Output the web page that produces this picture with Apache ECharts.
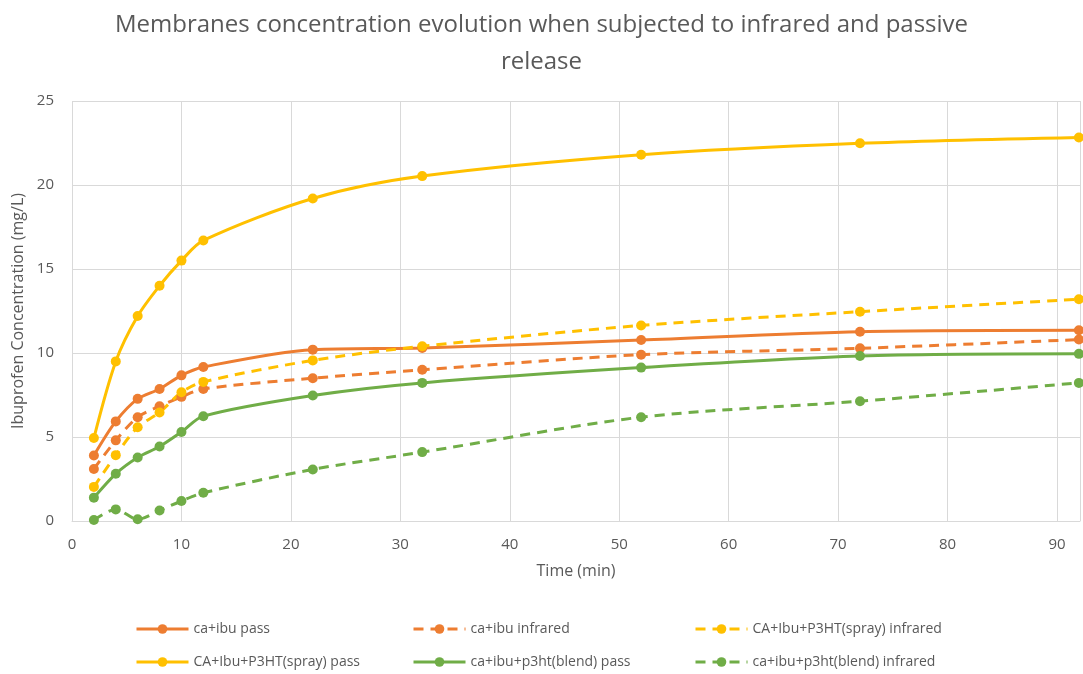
<!DOCTYPE html>
<html>
<head>
<meta charset="utf-8">
<script src="https://cdn.jsdelivr.net/npm/echarts@6/dist/echarts.min.js"></script>
<style>
html,body{margin:0;padding:0;background:#fff;}
#chart{width:1083px;height:674px;}
</style>
</head>
<body>
<div id="chart"></div>
<script>
// time points (min)
var times = [2, 4, 6, 8, 10, 12, 22, 32, 52, 72, 92];

// concentrations (mg/L)
var caIbuPass        = [3.9, 5.93, 7.27, 7.86, 8.67, 9.17, 10.2, 10.3, 10.77, 11.27, 11.35];
var caIbuIr          = [3.1, 4.8, 6.18, 6.83, 7.39, 7.86, 8.5, 9.0, 9.9, 10.28, 10.8];
var sprayIr          = [2.03, 3.92, 5.58, 6.46, 7.66, 8.28, 9.56, 10.4, 11.64, 12.46, 13.2];
var sprayPass        = [4.94, 9.5, 12.2, 14.0, 15.5, 16.7, 19.2, 20.53, 21.8, 22.48, 22.83];
var blendPass        = [1.39, 2.81, 3.78, 4.43, 5.3, 6.24, 7.47, 8.22, 9.13, 9.82, 9.95];
var blendIr          = [0.06, 0.69, 0.1, 0.63, 1.19, 1.68, 3.07, 4.1, 6.18, 7.13, 8.22];

var yTicks = [0, 5, 10, 15, 20, 25];

var ORANGE = '#ED7D31', YELLOW = '#FFC000', GREEN = '#70AD47';
var FONT = "'Open Sans', sans-serif";

function pairs(vals) {
  return times.map(function (t, i) { return [t, vals[i]]; });
}

function makeSeries(name, vals, color, dashed) {
  return {
    name: name,
    type: 'line',
    smooth: 0.3,
    symbol: 'circle',
    symbolSize: 10,
    itemStyle: { color: color },
    lineStyle: { color: color, width: 3, type: dashed ? [10, 7] : 'solid' },
    data: pairs(vals)
  };
}

// one legend per entry so the 3x2 layout sits where it should
function legendAt(name, left, top) {
  return {
    left: left,
    top: top,
    padding: 0,
    itemWidth: 52,
    itemHeight: 12,
    lineStyle: { width: 3 },
    data: [name],
    textStyle: { color: '#595959', fontSize: 14, fontFamily: FONT }
  };
}

var chart = echarts.init(document.getElementById('chart'));

chart.setOption({
  animation: false,
  title: {
    text: 'Membranes concentration evolution when subjected to infrared and passive\nrelease',
    left: 'center',
    top: 2,
    textStyle: { color: '#595959', fontSize: 24, fontWeight: 'normal', fontFamily: FONT, lineHeight: 37 }
  },
  grid: { left: 72, right: 0, top: 101, bottom: 153 },
  legend: [
    legendAt('ca+ibu pass', 135, 622),
    legendAt('ca+ibu infrared', 412, 622),
    legendAt('CA+Ibu+P3HT(spray) infrared', 694, 622),
    legendAt('CA+Ibu+P3HT(spray) pass', 135, 655),
    legendAt('ca+ibu+p3ht(blend) pass', 412, 655),
    legendAt('ca+ibu+p3ht(blend) infrared', 694, 655)
  ],
  xAxis: {
    type: 'value',
    min: 0,
    max: 92.1,
    interval: 10,
    name: 'Time (min)',
    nameLocation: 'middle',
    nameGap: 42,
    nameTextStyle: { color: '#595959', fontSize: 16, fontFamily: FONT },
    axisLine: { lineStyle: { color: '#d9d9d9', width: 1 } },
    axisTick: { show: false },
    splitLine: { lineStyle: { color: '#d9d9d9', width: 1 } },
    axisLabel: {
      color: '#595959', fontSize: 15, fontFamily: FONT, margin: 16,
      formatter: function (v) { return v % 10 === 0 ? String(v) : ''; }
    }
  },
  yAxis: {
    type: 'value',
    min: yTicks[0],
    max: yTicks[yTicks.length - 1],
    interval: 5,
    name: 'Ibuprofen Concentration (mg/L)',
    nameLocation: 'middle',
    nameGap: 46,
    nameTextStyle: { color: '#595959', fontSize: 16, fontFamily: FONT },
    axisLine: { show: false },
    axisTick: { show: false },
    splitLine: { lineStyle: { color: '#d9d9d9', width: 1 } },
    axisLabel: { color: '#595959', fontSize: 15, fontFamily: FONT, margin: 18 }
  },
  series: [
    makeSeries('ca+ibu pass', caIbuPass, ORANGE, false),
    makeSeries('ca+ibu infrared', caIbuIr, ORANGE, true),
    makeSeries('CA+Ibu+P3HT(spray) infrared', sprayIr, YELLOW, true),
    makeSeries('CA+Ibu+P3HT(spray) pass', sprayPass, YELLOW, false),
    makeSeries('ca+ibu+p3ht(blend) pass', blendPass, GREEN, false),
    makeSeries('ca+ibu+p3ht(blend) infrared', blendIr, GREEN, true)
  ]
});
</script>
</body>
</html>
